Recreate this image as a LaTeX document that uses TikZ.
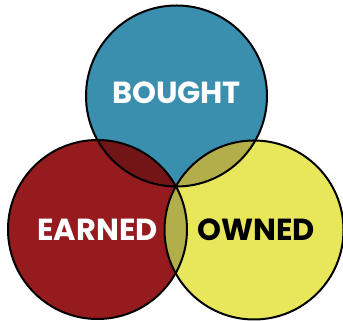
\documentclass[tikz,border=0pt]{standalone}
\usepackage{fontspec}
\setmainfont{Poppins}
\definecolor{boughtBlue}{HTML}{3A8FAF}
\definecolor{earnedRed}{HTML}{951B1E}
\definecolor{ownedYellow}{HTML}{E8E65A}
\definecolor{darkRed}{HTML}{731517}
\definecolor{darkYellow}{HTML}{B2AF4A}

\begin{document}
\begin{tikzpicture}[
    x=0.03cm, y=0.03cm,
    line width=0.06cm,
    word/.style={font=\bfseries\fontsize{26}{26}\selectfont, inner sep=0pt},
  ]
  \useasboundingbox (0,0) rectangle (343,321);
  \coordinate (bought) at (176.5,225);
  \coordinate (earned) at (97.5,91.5);
  \coordinate (owned) at (254,91);

  % the three sets
  \fill[earnedRed] (earned) circle (89.5);
  \fill[boughtBlue] (bought) circle (90.5);
  \fill[ownedYellow] (owned) circle (89.5);

  % overlaps
  \begin{scope}
    \clip (bought) circle (90.5);
    \fill[darkRed] (earned) circle (89.5);
    \fill[darkYellow] (owned) circle (89.5);
  \end{scope}
  \begin{scope}
    \clip (earned) circle (89.5);
    \fill[darkYellow] (owned) circle (89.5);
  \end{scope}

  \draw (earned) circle (89.5);
  \draw (bought) circle (90.5);
  \draw (owned) circle (89.5);

  \node[word, text=white] (boughtText) at ([yshift=0.09cm]bought) {BOUGHT};
  \node[word, text=white] (earnedText) at (earned) {EARNED};
  \node[word, text=black] (ownedText) at ([xshift=0.06cm]owned) {OWNED};
\end{tikzpicture}
\end{document}
